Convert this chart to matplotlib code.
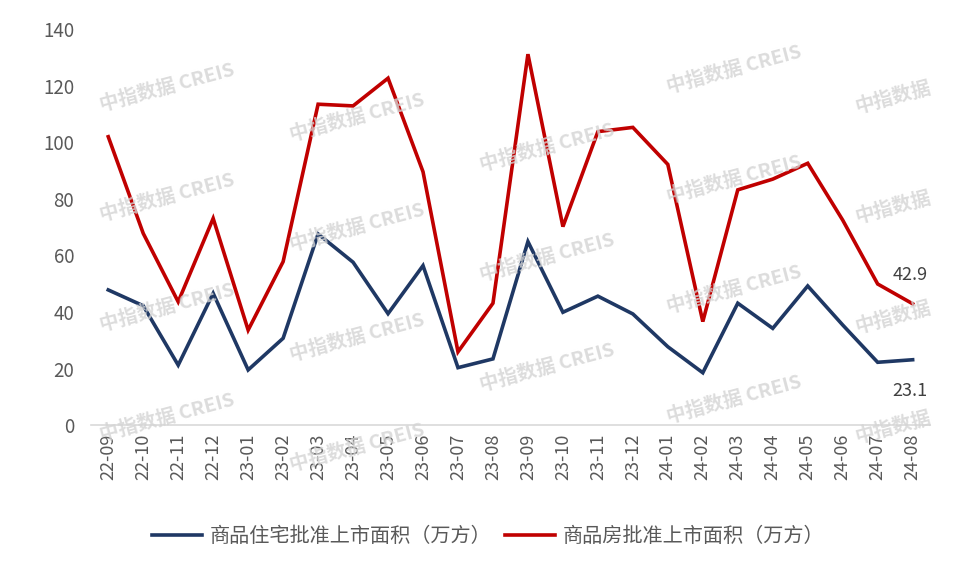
import matplotlib.pyplot as plt
import numpy as np

plt.rcParams['font.family'] = ['Noto Sans CJK SC', 'DejaVu Sans']

# 月份
months = ['22-09', '22-10', '22-11', '22-12', '23-01', '23-02', '23-03', '23-04',
          '23-05', '23-06', '23-07', '23-08', '23-09', '23-10', '23-11', '23-12',
          '24-01', '24-02', '24-03', '24-04', '24-05', '24-06', '24-07', '24-08']

# 商品住宅批准上市面积（万方）
residential = [47.8, 42.2, 21.2, 46.6, 19.5, 30.7, 67.6, 57.6, 39.4, 56.4, 20.3, 23.4,
               64.9, 39.9, 45.6, 39.3, 27.7, 18.5, 43.1, 34.2, 49.2, 35.4, 22.2, 23.1]

# 商品房批准上市面积（万方）
commercial = [102.0, 67.8, 43.6, 73.1, 33.6, 57.8, 113.5, 112.9, 122.7, 89.6, 25.9, 43.1,
              131.2, 70.2, 103.8, 105.3, 92.2, 36.6, 83.2, 87.0, 92.6, 72.5, 49.9, 42.9]

label_res = '商品住宅批准上市面积（万方）'
label_com = '商品房批准上市面积（万方）'

BLUE = '#1F3864'
RED = '#C00000'
GREY = '#595959'

fig = plt.figure(figsize=(9.76, 5.69), dpi=100)
ax = fig.add_axes([0.093, 0.253, 0.86, 0.6955])

x = np.arange(len(months))
ax.plot(x, residential, color=BLUE, lw=2.6, label=label_res, solid_joinstyle='miter')
ax.plot(x, commercial, color=RED, lw=2.6, label=label_com, solid_joinstyle='miter')

ax.set_xlim(-0.5, len(months) - 0.5)
ax.set_ylim(0, 140)
ax.set_yticks(range(0, 141, 20))
ax.set_xticks(x)
ax.set_xticklabels(months, rotation=90, fontsize=13, color=GREY)
ax.tick_params(axis='y', labelsize=13.5, labelcolor=GREY, length=0, pad=12)
ax.tick_params(axis='x', length=0, pad=6)

for s in ['left', 'right', 'top']:
    ax.spines[s].set_visible(False)
ax.spines['bottom'].set_color('#D9D9D9')
ax.spines['bottom'].set_linewidth(1.2)

# 末值标注
ax.annotate(f'{commercial[-1]}', (x[-1], commercial[-1]), xytext=(-2, 14),
            textcoords='offset points', ha='center', va='bottom', fontsize=13, color='#404040')
ax.annotate(f'{residential[-1]}', (x[-1], residential[-1]), xytext=(-2, -16),
            textcoords='offset points', ha='center', va='top', fontsize=13, color='#404040')

# 水印
wm_cols = [(98, [88, 198, 308, 418], True), (288, [118, 228, 338, 448], True),
           (478, [148, 258, 368], True), (665, [70, 180, 290, 400], True),
           (853, [98, 208, 318, 428], False)]
for wx, ys, full in wm_cols:
    for wy in ys:
        fig.text(wx / 976, 1 - wy / 569, '中指数据 CREIS' if full else '中指数据',
                 fontsize=14, fontweight='bold', color='#D4D4D4', alpha=0.8,
                 rotation=15, ha='left', va='center', zorder=0)

fig.legend(loc='center', bbox_to_anchor=(0.5, 1 - 537 / 569), ncol=2, frameon=False,
           fontsize=14.5, handlelength=2.5, handletextpad=0.35, columnspacing=0.7,
           labelcolor=GREY)

fig.savefig('out.png', dpi=100)
